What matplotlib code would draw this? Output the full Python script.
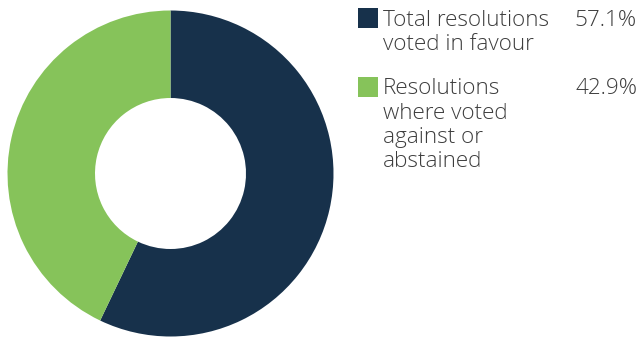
import matplotlib
matplotlib.use("Agg")
import matplotlib.pyplot as plt
from matplotlib.patches import Rectangle

labels = ["Total resolutions\nvoted in favour",
          "Resolutions\nwhere voted\nagainst or\nabstained"]
values = [57.1, 42.9]
colors = ["#17314b", "#86c35a"]

W, H = 640, 338
fig = plt.figure(figsize=(W / 100, H / 100), dpi=100)

# donut
cx, cy, r_out, r_in = 170.5, 164.5, 163.0, 75.5
ax = fig.add_axes([(cx - r_out) / W, (cy - r_out) / H, 2 * r_out / W, 2 * r_out / H])
ax.pie(values, colors=colors, startangle=90, counterclock=False, radius=1.0,
       wedgeprops=dict(width=1 - r_in / r_out, linewidth=0))
ax.set_xlim(-1, 1)
ax.set_ylim(-1, 1)
ax.set_aspect("equal")
ax.axis("off")

# legend
font = dict(family=["Open Sans", "DejaVu Sans"], fontsize=16.2, color="#3d3d3d",
            fontweight=300)
tops = [8, 77]
line_h = 24.3
for lab, val, col, top in zip(labels, values, colors, tops):
    fig.patches.append(Rectangle((358 / W, 1 - (top + 19.5) / H), 19.5 / W, 19.5 / H,
                                 transform=fig.transFigure, facecolor=col, edgecolor="none"))
    base = top + 17.5
    for i, line in enumerate(lab.split("\n")):
        fig.text(383 / W, 1 - (base + i * line_h) / H, line, ha="left", va="baseline", **font)
    fig.text(637 / W, 1 - base / H, f"{val:.1f}%", ha="right", va="baseline", **font)

fig.savefig("out.png", dpi=100)
